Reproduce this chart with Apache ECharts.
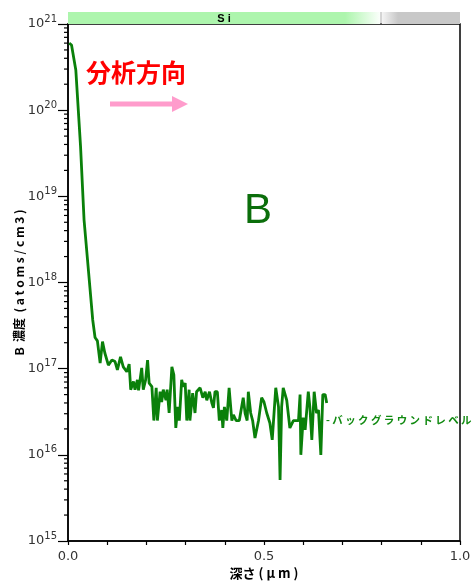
<!DOCTYPE html>
<html><head><meta charset="utf-8">
<script src="https://cdn.jsdelivr.net/npm/echarts@6/dist/echarts.min.js"></script>
<style>html,body{margin:0;padding:0;background:#fff}#c{width:473px;height:582px}</style>
</head><body><div id="c"></div>
<script>
// depth (µm)
const depth = [0.003,0.009,0.020,0.032,0.041,0.063,0.069,0.075,0.082,0.088,0.094,0.103,0.112,0.120,0.126,0.134,0.141,0.150,0.156,0.160,0.167,0.171,0.177,0.180,0.188,0.192,0.198,0.203,0.207,0.214,0.219,0.225,0.228,0.235,0.239,0.243,0.250,0.253,0.258,0.265,0.270,0.275,0.280,0.284,0.290,0.294,0.299,0.303,0.309,0.311,0.318,0.324,0.328,0.337,0.344,0.350,0.354,0.361,0.367,0.371,0.375,0.381,0.386,0.392,0.395,0.399,0.405,0.411,0.418,0.422,0.429,0.437,0.447,0.452,0.457,0.460,0.466,0.471,0.477,0.486,0.494,0.500,0.507,0.515,0.521,0.530,0.537,0.541,0.545,0.549,0.558,0.566,0.575,0.588,0.592,0.594,0.600,0.605,0.613,0.617,0.622,0.628,0.634,0.639,0.645,0.650,0.656,0.660];
// B concentration (atoms/cm3)
const boron = [6.0e20,5.7e20,2.9e20,3.8e19,5.3e18,3.7e17,2.3e17,2.1e17,1.16e17,2.06e17,1.52e17,1.1e17,1.26e17,1.21e17,9.7e16,1.37e17,1.05e17,9.2e16,1.13e17,5.7e16,7.1e16,5.7e16,7.4e16,5.6e16,1.02e17,5.7e16,7.4e16,1.26e17,6.8e16,6.2e16,2.5e16,6.0e16,2.5e16,5.4e16,4.1e16,5.7e16,4.3e16,5.7e16,3.06e16,1.05e17,8.5e16,2.05e16,3.6e16,2.5e16,7.4e16,6.2e16,6.8e16,2.5e16,5.7e16,2.5e16,5.2e16,3.06e16,5.4e16,6.0e16,4.6e16,5.4e16,4.3e16,5.4e16,4.0e16,3.5e16,5.4e16,5.4e16,2.5e16,3.3e16,2.05e16,3.6e16,2.5e16,6.0e16,2.5e16,2.9e16,2.5e16,2.5e16,4.6e16,3.0e16,2.5e16,5.4e16,3.06e16,2.5e16,1.57e16,2.5e16,4.6e16,4.1e16,3.06e16,2.34e16,1.49e16,6.0e16,3.6e16,5.1e15,3.6e16,6.0e16,4.3e16,2.05e16,2.5e16,2.5e16,5.0e16,1.0e16,2.7e16,1.95e16,5.4e16,3.6e16,1.49e16,5.4e16,3.06e16,3.3e16,1.0e16,5.0e16,5.0e16,4.0e16];
// x tick labels shown
const xLabels = [0.0, 0.5, 1.0];
// y axis decades
const yMin = 1e15, yMax = 1e21;
// layer band on top
const layerNames = ['S i', ''];
const layerStart = [0.0, 0.801];
const layerEnd = [0.796, 1.0];
const layerFade = [0.707, 0.842];
const divider = [0.7985];

const minorTicks = [];
for (let e = 15; e < 21; e++) for (let m = 2; m <= 9; m++) minorTicks.push(m * Math.pow(10, e));

const chart = echarts.init(document.getElementById('c'));
const option = {
  animation: false,
  grid: [
    {left: 68, right: 13, top: 24, bottom: 41, show: true, borderColor: '#000', borderWidth: 1.5,
     containLabel: false, outerBoundsMode: 'none'},
    {left: 68, right: 13, top: 12, height: 12, containLabel: false, outerBoundsMode: 'none'}
  ],
  xAxis: [
    {type: 'value', gridIndex: 0, min: 0, max: 1, interval: 0.1,
     axisLine: {onZero: false, lineStyle: {color: '#000', width: 1.5}},
     axisTick: {length: 4, lineStyle: {color: '#000', width: 1.2}},
     axisLabel: {margin: 9, color: '#333', fontSize: 13, fontFamily: 'DejaVu Sans',
       formatter: v => xLabels.some(t => Math.abs(t - v) < 1e-6) ? v.toFixed(1) : ''},
     splitLine: {show: false},
     name: '深さ ( μ m )', nameLocation: 'middle', nameGap: 26, nameMoveOverlap: false,
     nameTextStyle: {fontWeight: 'bold', fontSize: 13, color: '#000', fontFamily: 'Noto Sans CJK JP'}},
    {type: 'value', gridIndex: 1, min: 0, max: 1, show: false}
  ],
  yAxis: [
    {type: 'log', logBase: 10, gridIndex: 0, min: yMin, max: yMax, splitNumber: 6,
     axisLine: {lineStyle: {color: '#000', width: 1.5}},
     axisTick: {length: 10, lineStyle: {color: '#000', width: 1.2}},
     splitLine: {show: false},
     axisLabel: {margin: 11, color: '#333', fontFamily: 'DejaVu Sans',
       formatter: v => '{b|10}{s|' + Math.round(Math.log10(v)) + '}',
       rich: {b: {fontSize: 13, fontFamily: 'DejaVu Sans', color: '#333'},
              s: {fontSize: 10, fontFamily: 'DejaVu Sans', color: '#333', padding: [0, 0, 10, 0]}}},
     name: 'B  濃度  ( a t o m s / c m 3 )', nameLocation: 'middle', nameGap: 43, nameRotate: 90,
     nameMoveOverlap: false,
     nameTextStyle: {fontWeight: 'bold', fontSize: 12, color: '#000', fontFamily: 'Noto Sans CJK JP'}},
    {type: 'value', gridIndex: 1, min: 0, max: 1, show: false}
  ],
  series: [
    {type: 'line', xAxisIndex: 0, yAxisIndex: 0, showSymbol: false, symbol: 'none',
     data: depth.map((d, i) => [d, boron[i]]),
     lineStyle: {color: '#0a800a', width: 2.8}, z: 5},
    {type: 'custom', xAxisIndex: 0, yAxisIndex: 0, data: minorTicks.map(v => [0, v]), silent: true,
     renderItem: (params, api) => {
       const p = api.coord([0, api.value(1)]);
       return {type: 'line', shape: {x1: p[0] - 4, y1: p[1], x2: p[0], y2: p[1]},
               style: {stroke: '#000', lineWidth: 1.2}};
     }},
    {type: 'custom', xAxisIndex: 1, yAxisIndex: 1, silent: true,
     data: layerNames.map((n, i) => [layerStart[i], layerEnd[i], layerFade[i], i]),
     renderItem: (params, api) => {
       const s = api.value(0), e = api.value(1), f = api.value(2), idx = api.value(3);
       const p0 = api.coord([s, 1]), p1 = api.coord([e, 0]);
       const w = p1[0] - p0[0], h = p1[1] - p0[1];
       const fr = (f - s) / (e - s);
       let fill;
       if (idx === 0) {
         fill = new echarts.graphic.LinearGradient(0, 0, 1, 0, [
           {offset: 0, color: '#adf5ad'}, {offset: fr, color: '#adf5ad'}, {offset: 1, color: '#fbfffb'}]);
       } else {
         fill = new echarts.graphic.LinearGradient(0, 0, 1, 0, [
           {offset: 0, color: '#f4f4f4'}, {offset: fr, color: '#c8c8c8'}, {offset: 1, color: '#c8c8c8'}]);
       }
       const children = [{type: 'rect', shape: {x: p0[0], y: p0[1], width: w, height: h}, style: {fill: fill}}];
       if (layerNames[idx]) {
         children.push({type: 'text', style: {text: layerNames[idx], x: p0[0] + w / 2, y: p0[1] + h / 2 + 0.5,
           align: 'center', verticalAlign: 'middle', fontSize: 11, fontWeight: 'bold', fill: '#000',
           fontFamily: 'Liberation Sans'}});
       }
       return {type: 'group', children: children};
     }},
    {type: 'custom', xAxisIndex: 1, yAxisIndex: 1, silent: true, data: divider.map(d => [d]),
     renderItem: (params, api) => {
       const a = api.coord([api.value(0), 1]), b = api.coord([api.value(0), 0]);
       return {type: 'line', shape: {x1: a[0], y1: a[1], x2: b[0], y2: b[1]}, style: {stroke: '#aaa', lineWidth: 1}};
     }}
  ],
  graphic: [
    {type: 'text', left: 86, top: 60, style: {text: '分析方向', fontSize: 25, fontWeight: 'bold', fill: '#ff0000',
      fontFamily: 'Noto Sans CJK JP'}},
    {type: 'rect', shape: {x: 110, y: 101.5, width: 63, height: 5}, style: {fill: '#ff9ccc'}},
    {type: 'polygon', shape: {points: [[172, 96], [188, 104], [172, 112]]}, style: {fill: '#ff9ccc'}},
    {type: 'text', left: 244, top: 190, style: {text: 'B', fontSize: 42, fill: '#0b6e0b', fontFamily: 'Liberation Sans'}},
    {type: 'text', x: 326, y: 420, style: {text: '- バ ッ ク グ ラ ウ ン ド レ ベ ル', fontSize: 10.5, fontWeight: 'bold',
      fill: '#118a11', verticalAlign: 'middle', fontFamily: 'Noto Sans CJK JP'}}
  ]
};
chart.setOption(option);
</script></body></html>
